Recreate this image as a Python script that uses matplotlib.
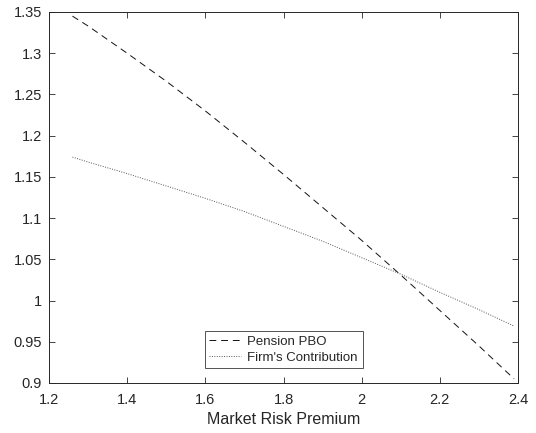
import matplotlib
matplotlib.use('Agg')
import matplotlib.pyplot as plt

# valori
risk_premium = [1.26, 1.3, 1.4, 1.5, 1.6, 1.7, 1.8, 1.9, 2.0, 2.1, 2.2, 2.3, 2.39]
pension_pbo = [1.345, 1.333, 1.300, 1.266, 1.230, 1.192, 1.153, 1.113, 1.073,
               1.031, 0.988, 0.945, 0.905]
firm_contrib = [1.174, 1.168, 1.154, 1.139, 1.124, 1.108, 1.090, 1.072, 1.052,
                1.032, 1.010, 0.989, 0.969]

x_ticks = [1.2, 1.4, 1.6, 1.8, 2.0, 2.2, 2.4]
x_labels = ['1.2', '1.4', '1.6', '1.8', '2', '2.2', '2.4']
y_ticks = [0.9, 0.95, 1.0, 1.05, 1.1, 1.15, 1.2, 1.25, 1.3, 1.35]
y_labels = ['0.9', '0.95', '1', '1.05', '1.1', '1.15', '1.2', '1.25', '1.3', '1.35']

plt.rcParams['font.family'] = ['Liberation Sans', 'DejaVu Sans']
txt_col = '#262626'

fig = plt.figure(figsize=(5.36, 4.33), dpi=100)
ax = fig.add_axes([49/536, 1 - 383/433, 469/536, 371/433])

ax.plot(risk_premium, pension_pbo, color='#111111', lw=0.7,
        linestyle=(0, (7, 5)), label='Pension PBO')
ax.plot(risk_premium, firm_contrib, color='#555555', lw=0.7,
        linestyle=(0, (1, 1.5)), label="Firm's Contribution")

ax.set_xlim(1.2, 2.4)
ax.set_ylim(0.9, 1.35)
ax.set_xticks(x_ticks)
ax.set_xticklabels(x_labels)
ax.set_yticks(y_ticks)
ax.set_yticklabels(y_labels)
ax.tick_params(direction='in', length=4, width=0.6, colors=txt_col,
               labelsize=10.5, top=True, right=True)
ax.tick_params(axis='x', pad=7)
ax.tick_params(axis='y', pad=5)
for s in ax.spines.values():
    s.set_color(txt_col)
    s.set_linewidth(0.7)

ax.set_xlabel('Market Risk Premium', fontsize=11.5, color=txt_col, labelpad=4)

leg = ax.legend(loc='lower center', bbox_to_anchor=(0.5, 0.04), fontsize=9.5,
                frameon=True, fancybox=False, handlelength=2.4,
                borderpad=0.35, labelspacing=0.25, handletextpad=0.5,
                borderaxespad=0)
leg.get_frame().set_edgecolor(txt_col)
leg.get_frame().set_linewidth(0.7)
for t in leg.get_texts():
    t.set_color(txt_col)

fig.savefig('out.png', dpi=100)
